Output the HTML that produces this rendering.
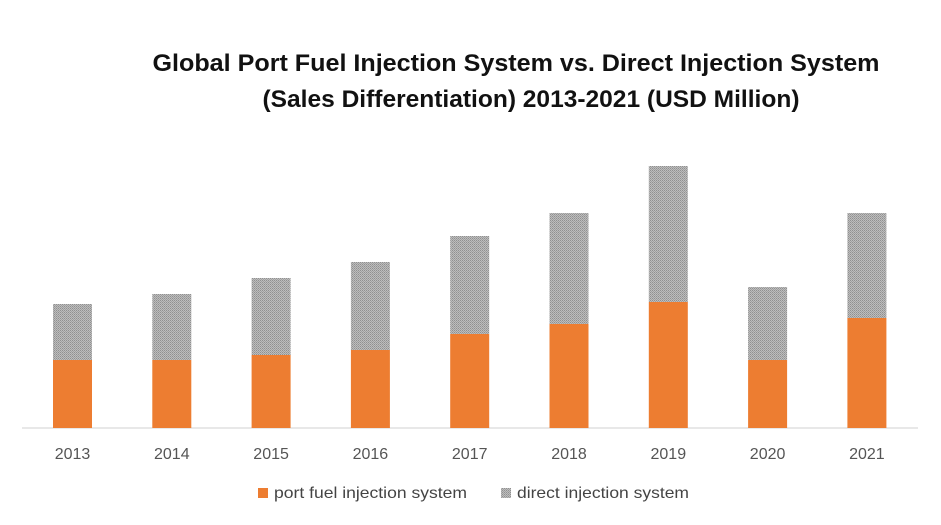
<!DOCTYPE html>
<html><head><meta charset="utf-8"><style>
body{margin:0;background:#fff;}
svg{display:block;font-family:"Liberation Sans",Calibri,sans-serif;}
</style></head><body>
<svg id="c" width="941" height="525">
<defs>
<pattern id="dots" width="2" height="2" patternUnits="userSpaceOnUse">
<rect width="2" height="2" fill="#bdbdbd"/><rect width="1" height="1" fill="#909090"/><rect x="1" y="1" width="1" height="1" fill="#a0a0a0"/>
</pattern>
</defs>
<text x="516" y="71" text-anchor="middle" font-size="24" font-weight="bold" fill="#111" textLength="727" lengthAdjust="spacingAndGlyphs">Global Port Fuel Injection System vs. Direct Injection System</text>
<text x="531" y="107" text-anchor="middle" font-size="24" font-weight="bold" fill="#111" textLength="537" lengthAdjust="spacingAndGlyphs">(Sales Differentiation) 2013-2021 (USD Million)</text>
<line x1="22" y1="428" x2="918" y2="428" stroke="#d0d0d0" stroke-width="1"/>
<g id="bars"></g>
<g>
<rect x="258" y="488" width="10" height="10" fill="#ed7d31"/>
<text x="274" y="498" font-size="16" fill="#444" textLength="193" lengthAdjust="spacingAndGlyphs">port fuel injection system</text>
<rect x="501" y="488" width="10" height="10" fill="url(#dots)"/>
<text x="517" y="498" font-size="16" fill="#444" textLength="172" lengthAdjust="spacingAndGlyphs">direct injection system</text>
</g>
</svg>
<script>
const categories=["2013","2014","2015","2016","2017","2018","2019","2020","2021"];
const portValues=[68,68,73,78,94,104,126,68,110];
const directValues=[56,66,77,88,98,111,136,73,105];
const base=428, k=1, x0=72.5, step=99.3, bw=39;
const xc=i=>x0+i*step;
const y=v=>base-v*k;
const g=document.getElementById('bars');
const ns="http://www.w3.org/2000/svg";
categories.forEach((c,i)=>{
  const p=portValues[i], d=directValues[i];
  const r1=document.createElementNS(ns,'rect');
  r1.setAttribute('x',xc(i)-bw/2);r1.setAttribute('y',y(p));r1.setAttribute('width',bw);r1.setAttribute('height',base-y(p));r1.setAttribute('fill','#ed7d31');
  
  
  g.appendChild(r1);
  const r2=document.createElementNS(ns,'rect');
  r2.setAttribute('x',xc(i)-bw/2);r2.setAttribute('y',y(p+d));r2.setAttribute('width',bw);r2.setAttribute('height',y(p)-y(p+d));r2.setAttribute('fill','url(#dots)');
  
  
  g.appendChild(r2);
  const t=document.createElementNS(ns,'text');
  t.setAttribute('x',xc(i));t.setAttribute('y',459);t.setAttribute('text-anchor','middle');t.setAttribute('font-size','16');t.setAttribute('fill','#555');
  t.textContent=c;
  
  
  g.appendChild(t);
});
</script>
</body></html>
